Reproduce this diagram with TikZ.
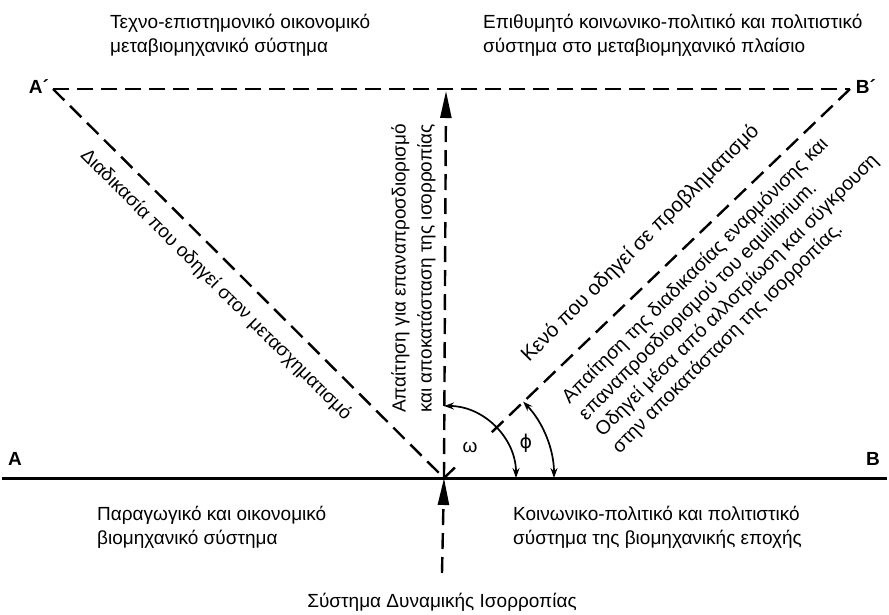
\documentclass[tikz,border=0pt]{standalone}
\usepackage{fontspec}
\setmainfont{Liberation Sans}
\newfontfamily\symfont{DejaVu Sans}
\usetikzlibrary{arrows.meta,calc}

\begin{document}
\begin{tikzpicture}[x=1pt,y=1pt,
		DashLine/.style={line width=2.4pt, dash pattern=on 16pt off 8pt},
		BigTip/.style={-{Triangle[length=27pt,width=11pt]}},
		Angle/.style={line width=1.7pt, {Stealth[length=10pt,width=7pt]}-{Stealth[length=10pt,width=7pt]}},
		Corner/.style={font=\fontsize{19}{20}\selectfont\bfseries, inner sep=0pt},
		Note/.style={font=\fontsize{19}{24}\selectfont, align=left, inner sep=0pt},
		Slant/.style={Note, font=\fontsize{20.5}{23}\selectfont}
			]
  \useasboundingbox (0,0) rectangle (889,614);

  \coordinate (L) at (2,136);
  \coordinate (R) at (887,136);
  \coordinate (O) at (444,136);
  \coordinate (Ap) at (53,525);
  \coordinate (Bp) at (850,525);
  \coordinate (T) at (446,523);
  \coordinate (S) at (442,41);

  \node[Corner] (a) at (15,155) {A};
  \node[Corner] (b) at (873,155) {B};
  \node[Corner] (ap) at (39,527) {A´};
  \node[Corner] (bp) at (866,527) {B´};

  \node[Note, anchor=north west] (post1) at (110,600) {Τεχνο-επιστημονικό οικονομικό\\μεταβιομηχανικό σύστημα};
  \node[Note, anchor=north west] (post2) at (483,600) {Επιθυμητό κοινωνικο-πολιτικό και πολιτιστικό\\σύστημα στο μεταβιομηχανικό πλαίσιο};
  \node[Note, anchor=north west] (ind1) at (97,108) {Παραγωγικό και οικονομικό\\βιομηχανικό σύστημα};
  \node[Note, anchor=north west] (ind2) at (513,108) {Κοινωνικο-πολιτικό και πολιτιστικό\\σύστημα της βιομηχανικής εποχής};
  \node[Note, anchor=base] (eq) at (442,7) {Σύστημα Δυναμικής Ισορροπίας};

  \draw[line width=3pt] (L) -- (R);
  \draw[DashLine] (Ap) -- (Bp);
  \draw[DashLine] (Ap) -- (O);
  \draw[DashLine] (Bp) -- ($(Bp)!0.89!(O)$);
  \draw[DashLine] (O) -- ($(O)!0.027!(Bp)$);
  \draw[DashLine, BigTip] (O) -- (T);
  \draw[DashLine, BigTip] (S) -- (O);

  \draw[Angle] ($(O)+(90:72)$) arc[start angle=90, end angle=0, radius=72];
  \draw[Angle] ($(O)+(44:110)$) arc[start angle=44, end angle=0, radius=110];
  \node[Note] (w) at (470,167) {ω};
  \node[Note] (f) at (526,171) {\symfont ϕ};

  \node[Note, rotate=-45] (trans) at (216,329) {Διαδικασία που οδηγεί στον μετασχηματισμό};
  \node[Note, rotate=90, anchor=north west, font=\fontsize{19}{26}\selectfont] (dem) at (391,201) {Απαίτηση για επαναπροσδιορισμό\\και αποκατάσταση της ισορροπίας};
  \node[Slant, rotate=45, anchor=west] (gap) at (525,255) {Κενό που οδηγεί σε προβληματισμό};
  \node[Slant, rotate=45, anchor=north west, font=\fontsize{19.5}{23.5}\selectfont] (proc) at (559,220) {Απαίτηση της διαδικασίας εναρμόνισης και\\επαναπροσδιορισμού του equilibrium.\\Οδηγεί μέσα από αλλοτρίωση και σύγκρουση\\στην αποκατάσταση της ισορροπίας.};
\end{tikzpicture}
\end{document}
